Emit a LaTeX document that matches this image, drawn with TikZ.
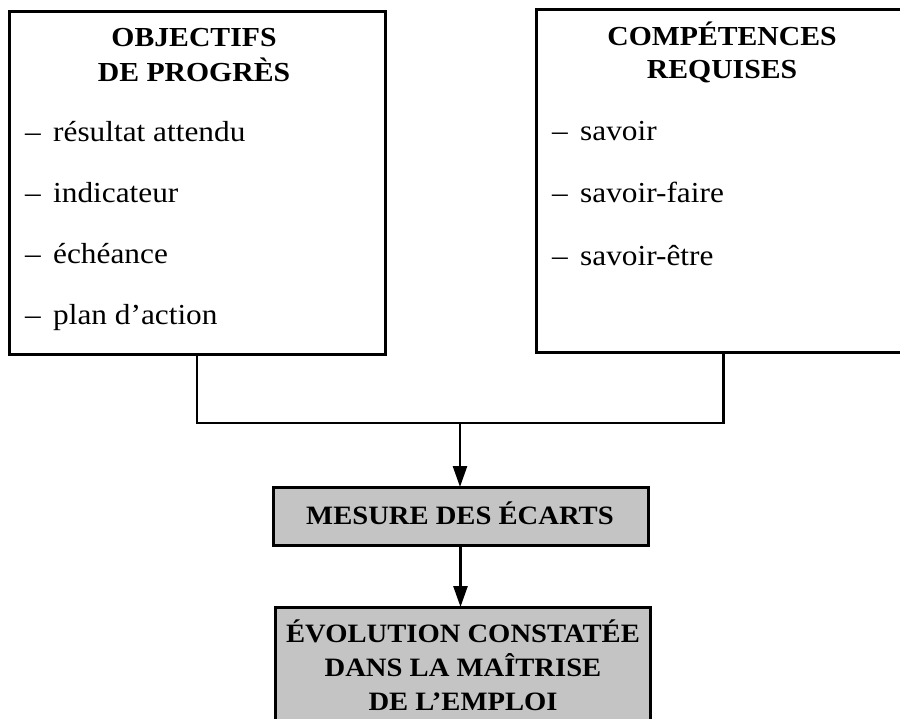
\documentclass[tikz,border=0pt]{standalone}
\usepackage{fontspec}
\setmainfont{Liberation Serif}[FakeStretch=1.08]
\usetikzlibrary{arrows.meta}

\definecolor{boxgray}{gray}{0.77}

\tikzset{
  frame/.style={draw=black, line width=3pt, inner sep=0pt, outer sep=0pt},
  shaded/.style={frame, fill=boxgray},
  link/.style={draw=black, line width=2.6pt},
  arrowlink/.style={link, -{Triangle[width=14pt,length=21pt]}},
  headtext/.style={font=\fontsize{27.5}{34}\selectfont\bfseries, anchor=base, inner sep=0pt},
  graytext/.style={font=\fontsize{26.5}{34}\selectfont\bfseries, anchor=base, inner sep=0pt},
  itemtext/.style={font=\fontsize{29}{34}\selectfont, anchor=base west, inner sep=0pt},
}

\newcommand{\itemdash}{\makebox[28pt][l]{–}}

\begin{document}
\begin{tikzpicture}[x=1pt, y=-1pt]
  \useasboundingbox (0,0) rectangle (900,719);
  \clip (0,0) rectangle (900,719);

  % the two upper boxes
  \node[frame, minimum width=376pt, minimum height=343pt] (obj) at (197,183.5) {};
  \node[frame, minimum width=375pt, minimum height=343pt] (comp) at (723.5,181.5) {};

  % the two shaded boxes
  \node[shaded, minimum width=375pt, minimum height=58pt] (mes) at (460.5,516) {};
  \node[shaded, minimum width=375pt, minimum height=130pt] (evo) at (462.5,672) {};

  % titles of the upper boxes
  \node[headtext] (objA) at (194,47) {OBJECTIFS};
  \node[headtext] (objB) at (194,82) {DE PROGRÈS};
  \node[headtext] (compA) at (722,46) {COMPÉTENCES};
  \node[headtext] (compB) at (722,79) {REQUISES};

  % list items
  \node[itemtext] (o1) at (25,142) {\itemdash résultat attendu};
  \node[itemtext] (o2) at (25,203) {\itemdash indicateur};
  \node[itemtext] (o3) at (25,264) {\itemdash échéance};
  \node[itemtext] (o4) at (25,325) {\itemdash plan d’action};

  \node[itemtext] (c1) at (552,141) {\itemdash savoir};
  \node[itemtext] (c2) at (552,203) {\itemdash savoir-faire};
  \node[itemtext] (c3) at (552,266) {\itemdash savoir-être};

  % texts of the shaded boxes
  \node[graytext] (mesT) at (460,524) {MESURE DES ÉCARTS};
  \node[graytext] (evoA) at (463,642) {ÉVOLUTION CONSTATÉE};
  \node[graytext] (evoB) at (463,676) {DANS LA MAÎTRISE};
  \node[graytext] (evoC) at (463,710) {DE L’EMPLOI};

  % connectors
  \coordinate (join) at (460,423);
  \draw[link] (obj.south) |- (join) -| (comp.south);
  \draw[arrowlink] (join) -- (join |- mes.north);
  \draw[arrowlink] (mes.south) -- (mes.south |- evo.north);
\end{tikzpicture}
\end{document}
